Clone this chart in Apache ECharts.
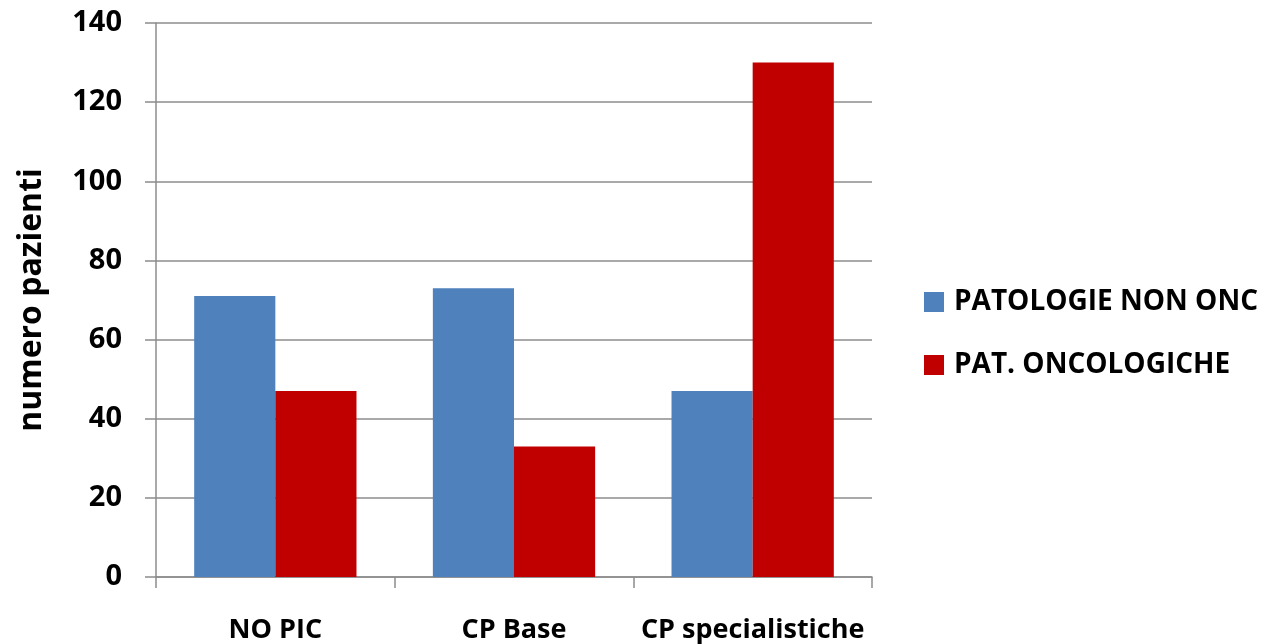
<!DOCTYPE html>
<html>
<head>
<meta charset="utf-8">
<script src="https://cdn.jsdelivr.net/npm/echarts@6/dist/echarts.min.js"></script>
<style>
  html, body { margin: 0; padding: 0; background: #ffffff; }
  #chart { width: 1270px; height: 644px; }
</style>
</head>
<body>
<div id="chart"></div>
<script>
// Patients by type of care, split by pathology group
const categories = ['NO PIC', 'CP Base', 'CP specialistiche'];
const nonOncologiche = [71, 73, 47];
const oncologiche = [47, 33, 130];
const seriesNames = ['PATOLOGIE NON ONC', 'PAT. ONCOLOGICHE'];
const yTicks = [0, 20, 40, 60, 80, 100, 120, 140];

const FONT = '"Open Sans", "Liberation Sans", sans-serif';
const GRID_GREY = '#8c8c8c';

const chart = echarts.init(document.getElementById('chart'), null, { renderer: 'canvas' });

chart.setOption({
  animation: false,
  backgroundColor: '#ffffff',
  grid: { left: 156, right: 398, top: 23, bottom: 67, containLabel: false },
  legend: {
    orient: 'vertical',
    left: 919,
    top: 283,
    itemWidth: 20,
    itemHeight: 20,
    itemGap: 35,
    icon: 'rect',
    textStyle: { fontFamily: FONT, fontWeight: 'bold', fontSize: 28, color: '#000', padding: [0, 0, 0, 5] },
    data: seriesNames
  },
  xAxis: {
    type: 'category',
    data: categories,
    axisLine: { lineStyle: { color: GRID_GREY, width: 1.5 } },
    axisTick: { show: true, length: 11, lineStyle: { color: GRID_GREY, width: 1.5 } },
    axisLabel: {
      interval: 0,
      hideOverlap: false,
      fontFamily: FONT, fontWeight: 'bold', fontSize: 27, color: '#000', margin: 40
    }
  },
  yAxis: {
    type: 'value',
    min: yTicks[0],
    max: yTicks[yTicks.length - 1],
    interval: 20,
    name: 'numero pazienti',
    nameLocation: 'middle',
    nameGap: 108,
    nameRotate: 90,
    nameTextStyle: { fontFamily: FONT, fontWeight: 'bold', fontSize: 32, color: '#000' },
    axisLine: { show: true, lineStyle: { color: GRID_GREY, width: 1.5 } },
    axisTick: { show: true, length: 11, lineStyle: { color: GRID_GREY, width: 1.5 } },
    axisLabel: { fontFamily: FONT, fontWeight: 'bold', fontSize: 29, color: '#000', margin: 34 },
    splitLine: { show: true, lineStyle: { color: GRID_GREY, width: 1.5 } }
  },
  series: [
    {
      name: seriesNames[0],
      type: 'bar',
      data: nonOncologiche,
      barGap: '0%',
      barCategoryGap: '32%',
      itemStyle: { color: '#4f81bd' }
    },
    {
      name: seriesNames[1],
      type: 'bar',
      data: oncologiche,
      barGap: '0%',
      barCategoryGap: '32%',
      itemStyle: { color: '#c00000' }
    }
  ]
});
</script>
</body>
</html>
